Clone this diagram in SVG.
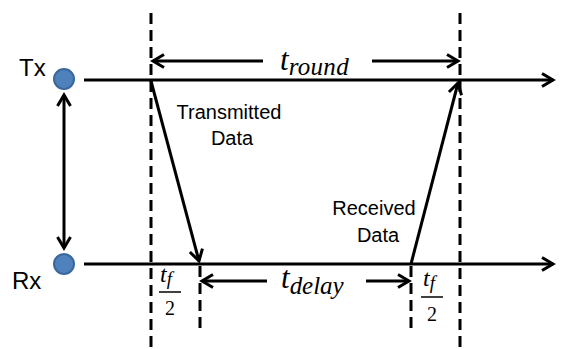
<svg xmlns="http://www.w3.org/2000/svg" width="565" height="349" viewBox="0 0 565 349">
<style>
.ln{stroke:#000;stroke-width:3;fill:none}
.dash{stroke:#000;stroke-width:3;fill:none;stroke-dasharray:11 6}
.lbl{font-family:"Liberation Sans",Arial,sans-serif;fill:#000}
.math{font-family:"Liberation Serif","Times New Roman",serif;font-style:italic;fill:#000}
.num{font-family:"Liberation Serif","Times New Roman",serif;fill:#000}
.node{fill:#4F81BD;stroke:#3A679C;stroke-width:2}
</style>
<defs>
<marker id="ah" markerUnits="userSpaceOnUse" markerWidth="16" markerHeight="16" viewBox="0 0 16 16" refX="13" refY="8" orient="auto-start-reverse" overflow="visible">
<path d="M2,1.5 L13,8 L2,14.5" fill="none" stroke="#000" stroke-width="3" stroke-linejoin="miter"/>
</marker>
</defs>
<g id="tx">
<circle class="node" cx="64" cy="79" r="10"/>
<text class="lbl" x="19" y="76" font-size="24">Tx</text>
</g>
<g id="rx">
<circle class="node" cx="64" cy="264" r="10"/>
<text class="lbl" x="12" y="289" font-size="24">Rx</text>
</g>
<g id="guides">
<line class="dash" x1="151" y1="13" x2="151" y2="349"/>
<line class="dash" x1="460" y1="13" x2="460" y2="349"/>
<line class="dash" x1="200" y1="266" x2="200" y2="332"/>
<line class="dash" x1="411" y1="266" x2="411" y2="332"/>
</g>
<g id="connectors">
<line class="ln" x1="84" y1="80" x2="553" y2="80" marker-end="url(#ah)"/>
<line class="ln" x1="84" y1="264" x2="553" y2="264" marker-end="url(#ah)"/>
<line class="ln" x1="64" y1="95" x2="64" y2="248" marker-start="url(#ah)" marker-end="url(#ah)"/>
<line class="ln" x1="151" y1="81" x2="199" y2="261" marker-end="url(#ah)"/>
<line class="ln" x1="411" y1="264" x2="458" y2="83" marker-end="url(#ah)"/>
<line class="ln" x1="263" y1="61" x2="153" y2="61" marker-end="url(#ah)"/>
<line class="ln" x1="372" y1="61" x2="458" y2="61" marker-end="url(#ah)"/>
<line class="ln" x1="267" y1="281" x2="202" y2="281" marker-end="url(#ah)"/>
<line class="ln" x1="366" y1="281" x2="409" y2="281" marker-end="url(#ah)"/>
</g>
<g id="labels">
<text class="lbl" x="229" y="119" font-size="20" text-anchor="middle">Transmitted</text>
<text class="lbl" x="232" y="145" font-size="20" text-anchor="middle">Data</text>
<text class="lbl" x="374" y="215" font-size="20" text-anchor="middle">Received</text>
<text class="lbl" x="378" y="242" font-size="20" text-anchor="middle">Data</text>
<text class="math" x="280" y="70" font-size="31">t<tspan font-size="25" dy="5" textLength="60">round</tspan></text>
<text class="math" x="281" y="288" font-size="31">t<tspan font-size="25" dy="6" textLength="54">delay</tspan></text>
</g>
<g id="frac1">
<text class="math" x="160" y="282" font-size="24">t<tspan font-size="19" dy="3">f</tspan></text>
<line x1="159" y1="292" x2="181" y2="292" stroke="#000" stroke-width="1.5"/>
<text class="num" x="170" y="315" font-size="20" text-anchor="middle">2</text>
</g>
<g id="frac2">
<text class="math" x="423" y="286" font-size="24">t<tspan font-size="19" dy="3">f</tspan></text>
<line x1="421" y1="297" x2="443" y2="297" stroke="#000" stroke-width="1.5"/>
<text class="num" x="432" y="321" font-size="20" text-anchor="middle">2</text>
</g>
</svg>
